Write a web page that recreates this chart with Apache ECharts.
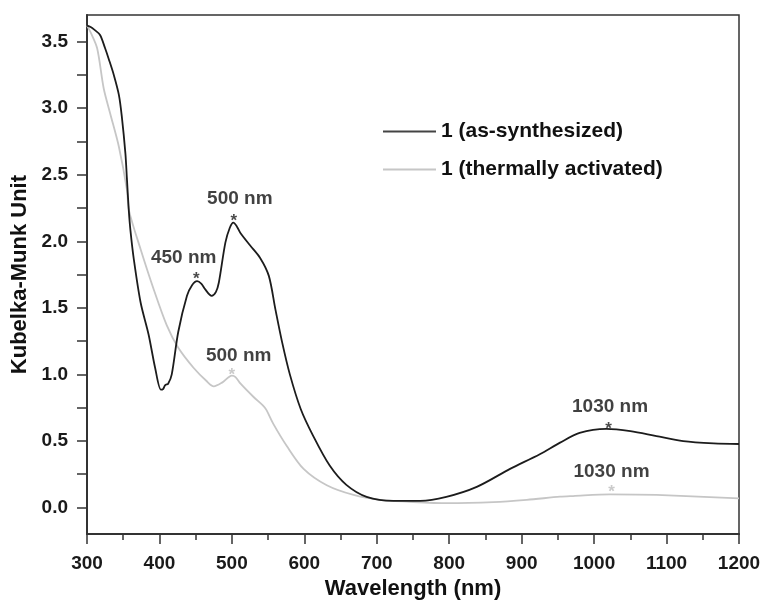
<!DOCTYPE html>
<html>
<head>
<meta charset="utf-8">
<script src="https://cdn.jsdelivr.net/npm/echarts@6/dist/echarts.min.js"></script>
<style>
html,body{margin:0;padding:0;background:#fff;}
#chart{width:764px;height:605px;}
</style>
</head>
<body>
<div id="chart"></div>
<script>
// ---- data ----
const seriesNames = ['1 (as-synthesized)', '1 (thermally activated)'];

const asSynthesized = [
  [300,3.62],[305,3.61],[310,3.59],[318,3.55],[325,3.45],[330,3.37],[337,3.25],[344,3.10],
  [348,2.94],[353,2.66],[355,2.48],[357.6,2.24],[360,2.08],[364.5,1.87],[374,1.54],[385,1.30],
  [394,1.05],[402,0.885],[405,0.89],[408,0.92],[412,0.93],[417,1.00],[426,1.32],[438,1.59],
  [445,1.67],[452,1.70],[458,1.68],[463,1.64],[472,1.59],[478,1.62],[482,1.69],[491,1.99],
  [497,2.10],[502,2.14],[507,2.11],[512,2.06],[525,1.97],[539,1.875],[551,1.74],[560,1.49],
  [569,1.25],[580,1.00],[595,0.74],[612,0.54],[635,0.315],[658,0.17],[686,0.08],[723,0.05],
  [760,0.05],[796,0.08],[838,0.155],[884,0.29],[925,0.40],[953,0.487],[980,0.56],[1017,0.59],
  [1050,0.573],[1086,0.536],[1123,0.499],[1165,0.482],[1200,0.477]
];

const thermallyActivated = [
  [300,3.62],[305,3.57],[314,3.45],[323,3.15],[332,2.96],[344,2.71],[355,2.39],[358,2.23],
  [374,1.94],[392,1.64],[410,1.37],[426,1.20],[447,1.05],[465,0.95],[475,0.91],[487,0.94],
  [500,0.99],[505,0.98],[512,0.93],[530,0.83],[544,0.76],[548,0.73],[557,0.63],[576,0.46],
  [599,0.29],[631,0.167],[668,0.094],[705,0.057],[741,0.044],[797,0.032],[861,0.04],
  [907,0.057],[953,0.081],[971,0.086],[1022,0.098],[1086,0.094],[1200,0.069]
];

// peak markers (asterisks) and their text labels
const starBlack = [[451,1.745],[502.5,2.18],[1020,0.62]];
const starGrey  = [[500,1.02],[1024,0.143]];
const labelBlackPos  = [[433.5,1.875],[511,2.318],[1022,0.757]];
const labelBlackText = ['450 nm','500 nm','1030 nm'];
const labelGreyPos   = [[509.4,1.138],[1024,0.265]];
const labelGreyText  = ['500 nm','1030 nm'];

const xTicks = [300,400,500,600,700,800,900,1000,1100,1200];
const yLabelValues = [0,0.5,1.0,1.5,2.0,2.5,3.0,3.5];
const yTickValues = [0,0.25,0.5,0.75,1.0,1.25,1.5,1.75,2.0,2.25,2.5,2.75,3.0,3.25,3.5];

// ---- chart ----
const FONT = '"Liberation Sans", Arial, sans-serif';
const BLACK = '#1c1c1c';
const GREY = '#c6c6c6';
const chart = echarts.init(document.getElementById('chart'), null, {renderer:'canvas'});

function textPoints(pos, txt){
  return pos.map((p,i)=>({value:p, label:{formatter: txt[i]}}));
}

chart.setOption({
  animation:false,
  backgroundColor:'#fff',
  grid:{left:87, right:25, top:15, bottom:62, show:true, borderColor:'#333', borderWidth:1.5},
  legend:{
    orient:'vertical', left:378, top:116, itemGap:17,
    icon:'rect', itemWidth:53, itemHeight:2,
    data: seriesNames,
    textStyle:{fontFamily:FONT, fontWeight:'bold', fontSize:21, color:'#111'}
  },
  xAxis:{
    type:'value', min:300, max:1200, interval:100,
    name:'Wavelength (nm)', nameLocation:'middle', nameGap:40,
    nameTextStyle:{fontFamily:FONT, fontWeight:'bold', fontSize:22, color:'#111'},
    axisLine:{onZero:false, lineStyle:{color:'#333', width:2}},
    axisTick:{inside:false, length:10, lineStyle:{color:'#333', width:1.5}},
    minorTick:{show:true, splitNumber:2, length:6, lineStyle:{color:'#333', width:1.5}},
    splitLine:{show:false},
    axisLabel:{margin:20, fontFamily:FONT, fontWeight:'bold', fontSize:19, color:'#1a1a1a',
      customValues: xTicks, formatter: v => String(v)}
  },
  yAxis:{
    type:'value', min:-0.2, max:3.7,
    name:'Kubelka-Munk Unit', nameLocation:'middle', nameGap:47,
    nameTextStyle:{fontFamily:FONT, fontWeight:'bold', fontSize:22, color:'#111'},
    axisLine:{onZero:false, lineStyle:{color:'#333', width:2}},
    axisTick:{inside:false, length:10, lineStyle:{color:'#333', width:1.5}, customValues: yTickValues},
    splitLine:{show:false},
    axisLabel:{margin:19, fontFamily:FONT, fontWeight:'bold', fontSize:19, color:'#1a1a1a',
      customValues: yLabelValues, formatter: v => v.toFixed(1)}
  },
  series:[
    {name:seriesNames[0], type:'line', data:asSynthesized, symbol:'none', smooth:0.3,
      lineStyle:{color:BLACK, width:1.8}, itemStyle:{color:'#444'}, z:3},
    {name:seriesNames[1], type:'line', data:thermallyActivated, symbol:'none', smooth:0.3,
      lineStyle:{color:GREY, width:1.8}, itemStyle:{color:GREY}, z:2},
    {type:'scatter', data:starBlack, symbolSize:0, silent:true,
      label:{show:true, position:'inside', formatter:'*', offset:[0,4],
        fontFamily:FONT, fontWeight:'bold', fontSize:17, color:BLACK}},
    {type:'scatter', data:starGrey, symbolSize:0, silent:true,
      label:{show:true, position:'inside', formatter:'*', offset:[0,4],
        fontFamily:FONT, fontWeight:'bold', fontSize:17, color:'#bdbdbd'}},
    {type:'scatter', data:textPoints(labelBlackPos,labelBlackText), symbolSize:0, silent:true,
      label:{show:true, position:'inside',
        fontFamily:FONT, fontWeight:'bold', fontSize:19, color:'#111'}},
    {type:'scatter', data:textPoints(labelGreyPos,labelGreyText), symbolSize:0, silent:true,
      label:{show:true, position:'inside',
        fontFamily:FONT, fontWeight:'bold', fontSize:19, color:'#111'}}
  ]
});
</script>
</body>
</html>
